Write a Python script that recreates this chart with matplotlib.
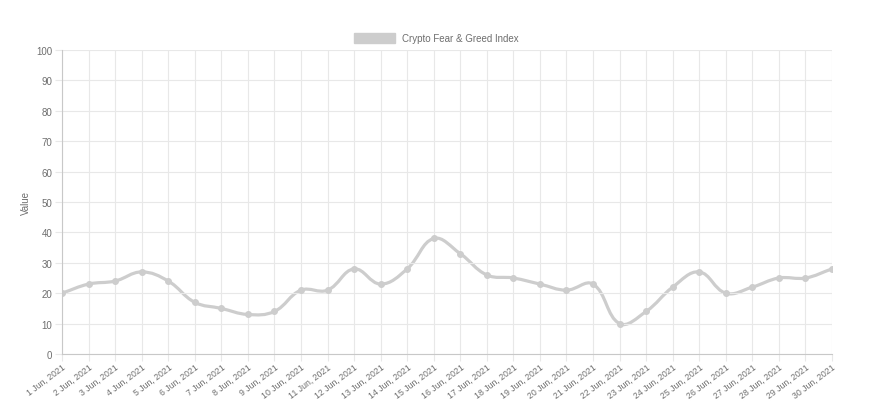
import numpy as np
import matplotlib
matplotlib.use("Agg")
import matplotlib.pyplot as plt
from matplotlib.path import Path
from matplotlib.patches import PathPatch, Patch

plt.rcParams["font.family"] = ["Liberation Sans", "DejaVu Sans"]

days = list(range(1, 31))
labels = [f"{d} Jun, 2021" for d in days]
values = [20, 23, 24, 27, 24, 17, 15, 13, 14, 21, 21, 28, 23, 28, 38,
          33, 26, 25, 23, 21, 23, 10, 14, 22, 27, 20, 22, 25, 25, 28]

LINE = "#cdcdcd"
TXT = "#6e6e6e"
GRID = "#e8e8e8"


def spline_path(xs, ys, t=0.4):
    # chart.js style cubic bezier through the points
    n = len(xs)
    verts = [(xs[0], ys[0])]
    codes = [Path.MOVETO]
    cps = []
    for i in range(n):
        p0 = (xs[max(i - 1, 0)], ys[max(i - 1, 0)])
        p1 = (xs[i], ys[i])
        p2 = (xs[min(i + 1, n - 1)], ys[min(i + 1, n - 1)])
        d01 = np.hypot(p1[0] - p0[0], p1[1] - p0[1])
        d12 = np.hypot(p2[0] - p1[0], p2[1] - p1[1])
        s01 = d01 / (d01 + d12) if d01 + d12 else 0
        s12 = d12 / (d01 + d12) if d01 + d12 else 0
        fa, fb = t * s01, t * s12
        prev = (p1[0] - fa * (p2[0] - p0[0]), p1[1] - fa * (p2[1] - p0[1]))
        nxt = (p1[0] + fb * (p2[0] - p0[0]), p1[1] + fb * (p2[1] - p0[1]))
        cps.append((prev, nxt))
    for i in range(1, n):
        verts += [cps[i - 1][1], cps[i][0], (xs[i], ys[i])]
        codes += [Path.CURVE4] * 3
    return Path(verts, codes)


fig = plt.figure(figsize=(8.72, 4.10), dpi=100)
ax = fig.add_axes([62 / 872, 55 / 410, 770 / 872, 304 / 410])

# work in pixel-like units so the curve tension looks right
x = np.arange(len(values))
sx = 770 / (len(values) - 1)
sy = 304 / 100
path = spline_path(list(x * sx), [v * sy for v in values])
path = Path(path.vertices / np.array([sx, sy]), path.codes)
ax.add_patch(PathPatch(path, facecolor="none", edgecolor=LINE, lw=2.3,
                       capstyle="round", joinstyle="round"))
ax.plot(x, values, "o", ms=4, color=LINE, mec=LINE)

ax.set_xlim(0, len(values) - 1)
ax.set_ylim(0, 100)
ax.set_yticks(range(0, 101, 10))
ax.set_xticks(x)
ax.set_xticklabels(labels, rotation=37, ha="right", rotation_mode="anchor",
                   fontsize=6.3)
ax.tick_params(axis="both", colors=GRID, labelcolor=TXT, length=5, width=0.8)
ax.tick_params(axis="y", labelsize=7, pad=2)
ax.tick_params(axis="x", pad=1)
ax.grid(True, color=GRID, lw=0.8)
for s in ["top", "right"]:
    ax.spines[s].set_visible(False)
for s in ["left", "bottom"]:
    ax.spines[s].set_color("#c8c8c8")
ax.set_ylabel("Value", color=TXT, fontsize=7, labelpad=4)

fig.legend(handles=[Patch(facecolor=LINE, edgecolor=LINE,
                          label="Crypto Fear & Greed Index")],
           loc="center", bbox_to_anchor=(0.5, 1 - 39 / 410),
           frameon=False, fontsize=7, labelcolor=TXT,
           handlelength=4.2, handleheight=1.2, handletextpad=0.7)

fig.savefig("out.png", dpi=100)
